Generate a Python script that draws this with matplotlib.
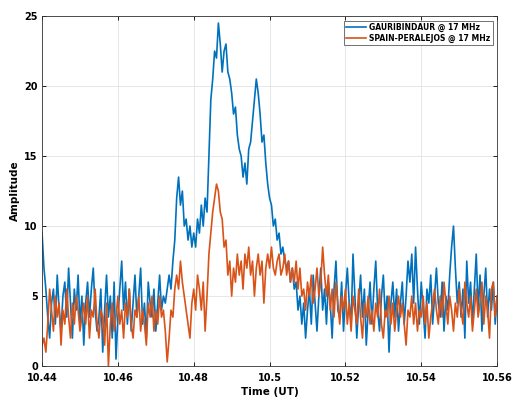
import numpy as np
import matplotlib.pyplot as plt

# ── data (one sample every 0.0005 h) ─────────────────────────────────────────
t_start, t_step = 10.44, 0.0005

gauribindaur = [
    9.5, 7.0, 5.5, 3.5, 2.0, 4.5, 5.5, 3.0, 6.5, 4.0,
    2.5, 5.0, 6.0, 3.5, 7.0, 4.5, 2.0, 5.5, 4.0, 6.5,
    3.0, 5.0, 1.5, 4.5, 6.0, 3.5, 5.5, 7.0, 4.0, 2.5,
    3.5, 5.5, 1.0, 4.0, 6.5, 3.5, 5.0, 2.0, 6.0, 0.5,
    3.5, 5.5, 7.5, 4.0, 6.0, 3.0, 5.5, 2.5, 4.5, 6.5,
    3.5, 5.0, 7.0, 3.0, 4.5, 2.0, 6.0, 4.5, 3.5, 5.5,
    2.5, 4.5, 6.5, 4.0, 5.0, 4.5, 5.5, 6.5, 5.5, 7.5,
    9.0, 12.0, 13.5, 11.5, 12.5, 10.0, 10.5, 9.0, 10.0, 8.5,
    9.5, 8.5, 10.5, 9.5, 11.5, 10.0, 12.0, 11.0, 15.0, 19.0,
    20.5, 22.5, 22.0, 24.5, 23.0, 21.0, 22.5, 23.0, 21.0, 20.5,
    19.5, 18.0, 18.5, 16.5, 15.5, 15.0, 13.5, 14.5, 13.0, 15.5,
    16.0, 17.5, 19.0, 20.5, 19.5, 18.0, 16.0, 16.5, 14.5, 13.0,
    12.0, 11.5, 10.0, 10.5, 9.0, 9.5, 8.0, 8.5, 7.5, 7.0,
    7.5, 6.0, 7.0, 5.5, 6.0, 4.0, 5.0, 3.0, 4.5, 2.0,
    4.0, 5.5, 3.0, 6.5, 4.5, 2.5, 5.0, 7.0, 4.0, 5.5,
    3.0, 6.0, 4.5, 2.0, 5.5, 7.5, 4.0, 3.5, 6.0, 2.5,
    5.0, 7.0, 4.5, 3.0, 8.0, 5.0, 2.0, 4.5, 6.5, 3.5,
    5.5, 1.5, 4.0, 6.0, 3.0, 5.5, 7.5, 4.0, 2.5, 5.0,
    6.5, 3.5, 5.0, 1.0, 4.5, 6.0, 3.5, 5.5, 2.5, 4.5,
    6.0, 3.0, 5.0, 7.5, 6.0, 8.0, 4.5, 8.5, 5.5, 3.0,
    6.0, 4.0, 2.0, 5.5, 4.5, 6.5, 3.0, 5.0, 7.0, 4.5,
    3.5, 6.0, 2.5, 5.0, 4.0, 6.5, 8.5, 10.0, 7.0, 4.5,
    6.0, 3.5, 5.5, 2.0, 7.5, 4.5, 6.0, 3.0, 5.5, 8.0,
    4.0, 6.5, 2.5, 5.0, 7.0, 3.5, 5.5, 4.0, 6.0, 3.0,
    5.0,
]

peralejos = [
    1.5, 2.0, 1.0, 3.0, 5.5, 4.0, 2.5, 5.0, 3.5, 4.5,
    1.5, 4.0, 3.0, 5.5, 3.5, 2.0, 4.5, 3.0, 5.0, 4.0,
    2.5, 3.5, 4.5, 3.0, 5.0, 2.0, 4.0, 3.5, 5.5, 3.0,
    2.0, 4.0, 3.5, 1.5, 4.5, 0.0, 3.0, 4.5, 2.5, 3.5,
    5.0, 3.0, 4.0, 2.0, 4.5, 3.5, 5.5, 3.0, 2.0, 4.0,
    3.5, 5.0, 2.5, 4.0, 3.0, 1.5, 4.5, 3.5, 5.0, 2.5,
    4.0, 3.0, 5.0, 3.5, 4.0, 2.5, 0.3, 2.0, 4.0, 3.5,
    5.5, 6.5, 5.5, 7.5, 6.0, 5.0, 4.0, 3.0, 2.0, 4.5,
    5.5, 4.0, 6.5, 5.5, 4.0, 6.0, 2.5, 5.0, 8.0, 9.5,
    11.0, 12.0, 13.0, 12.5, 11.0, 10.5, 8.5, 9.0, 6.5, 7.5,
    5.0, 7.0, 6.0, 8.0, 6.5, 7.5, 5.5, 8.0, 7.0, 8.5,
    6.5, 7.5, 5.0, 7.0, 8.0, 6.5, 7.5, 4.5, 7.0, 8.0,
    7.0, 8.5, 7.0, 6.5, 7.5, 8.0, 6.5, 7.0, 8.0, 6.5,
    7.5, 6.0, 7.0, 6.0, 7.5, 5.5, 7.0, 5.0, 5.5, 4.0,
    6.0, 5.0, 6.5, 4.5, 5.5, 7.0, 5.0, 6.0, 8.5, 6.5,
    5.0, 6.5, 4.0, 5.5, 3.5, 6.0, 4.5, 3.0, 5.0, 4.0,
    5.5, 3.0, 4.5, 2.5, 5.0, 4.0, 3.0, 5.5, 3.5, 2.0,
    4.5, 3.5, 5.0, 3.0, 4.0, 2.5, 4.5, 3.5, 5.5, 3.0,
    2.0, 4.0, 3.5, 5.0, 3.0, 4.5, 2.5, 4.0, 5.0, 3.5,
    4.5, 3.0, 1.5, 4.0, 3.5, 5.0, 3.0, 4.5, 2.5, 4.0,
    3.5, 5.0, 3.0, 4.5, 2.0, 3.5, 4.5, 5.5, 4.0, 3.0,
    5.0, 3.5, 6.0, 4.5, 3.0, 5.0, 4.0, 2.5, 4.5, 3.5,
    5.5, 4.0, 3.0, 6.0, 4.5, 3.5, 5.0, 2.5, 4.0, 5.5,
    3.5, 4.5, 6.0, 3.0, 5.0, 4.0, 2.0, 5.5, 6.0, 3.5,
    5.0,
]

labels = ["GAURIBINDAUR @ 17 MHz", "SPAIN-PERALEJOS @ 17 MHz"]
colors = ["#0072BD", "#D95319"]
xticks = [10.44, 10.46, 10.48, 10.50, 10.52, 10.54, 10.56]
xticklabels = ["10.44", "10.46", "10.48", "10.5", "10.52", "10.54", "10.56"]
yticks = [0, 5, 10, 15, 20, 25]

# ── figure ───────────────────────────────────────────────────────────────────
fig = plt.figure(figsize=(5.13, 4.01), dpi=100)
ax = fig.add_axes([0.082, 0.087, 0.887, 0.873])

for series, lab, col in zip([gauribindaur, peralejos], labels, colors):
    t = t_start + t_step * np.arange(len(series))
    ax.plot(t, series, color=col, lw=1.2, label=lab)

ax.set_xlim(10.44, 10.56)
ax.set_ylim(0, 25)
ax.set_xticks(xticks)
ax.set_xticklabels(xticklabels)
ax.set_yticks(yticks)
ax.tick_params(direction="in", top=True, right=True, labelsize=7,
               length=3, width=0.6)
ax.tick_params(axis="x", pad=5)
ax.tick_params(axis="y", pad=3)
for lbl in ax.get_xticklabels() + ax.get_yticklabels():
    lbl.set_fontweight("bold")
ax.grid(True, color="#e3e3e3", lw=0.6)
ax.set_axisbelow(True)
for sp in ax.spines.values():
    sp.set_color("#333333")
    sp.set_linewidth(0.6)

ax.set_xlabel("Time (UT)", fontsize=7.5, fontweight="bold", labelpad=3)
ax.set_ylabel("Amplitude", fontsize=7.5, fontweight="bold", labelpad=3)

leg = ax.legend(loc="upper right", prop={"weight": "bold", "size": 5.5},
                fancybox=False, edgecolor="#333333", handlelength=2.6,
                borderpad=0.3, labelspacing=0.2, handletextpad=0.4,
                borderaxespad=0.6)
leg.get_frame().set_linewidth(0.6)

fig.savefig("out.png", dpi=100)
